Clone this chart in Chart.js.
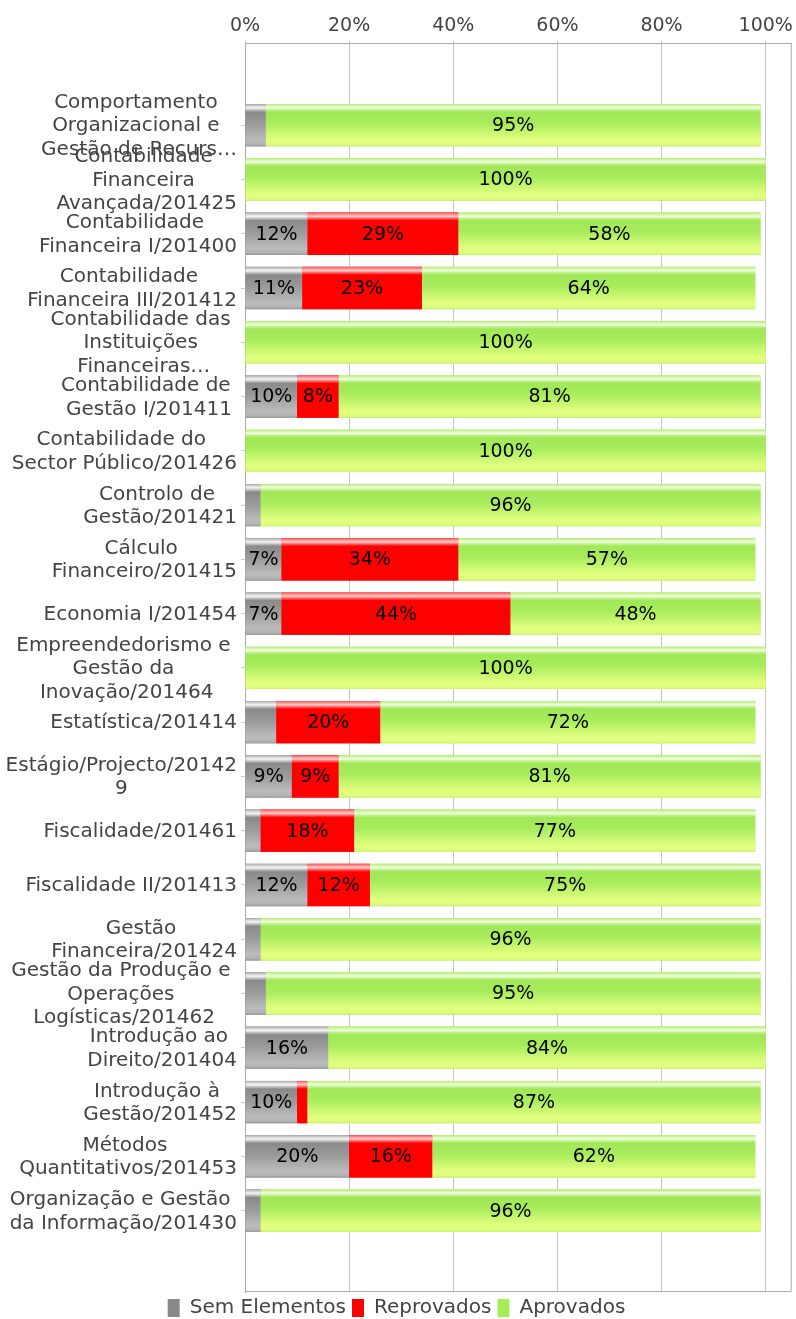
<!DOCTYPE html>
<html>
<head>
<meta charset="utf-8">
<script src="https://cdn.jsdelivr.net/npm/chart.js@4.4.1/dist/chart.umd.min.js"></script>
<style>
  html, body { margin: 0; padding: 0; background: #ffffff; }
  #wrap { width: 796px; height: 1319px; position: relative; overflow: hidden; }
</style>
</head>
<body>
<div id="wrap"><canvas id="c" width="796" height="1319"></canvas></div>
<script>
// ---- data ----
const categories = [
  ["Comportamento ", "Organizacional e ", "Gestão de Recurs…"],
  ["Contabilidade ", "Financeira ", "Avançada/201425"],
  ["Contabilidade ", "Financeira I/201400"],
  ["Contabilidade ", "Financeira III/201412"],
  ["Contabilidade das ", "Instituições ", "Financeiras…"],
  ["Contabilidade de ", "Gestão I/201411"],
  ["Contabilidade do ", "Sector Público/201426"],
  ["Controlo de ", "Gestão/201421"],
  ["Cálculo ", "Financeiro/201415"],
  ["Economia I/201454"],
  ["Empreendedorismo e ", "Gestão da ", "Inovação/201464"],
  ["Estatística/201414"],
  ["Estágio/Projecto/20142", "9"],
  ["Fiscalidade/201461"],
  ["Fiscalidade II/201413"],
  ["Gestão ", "Financeira/201424"],
  ["Gestão da Produção e ", "Operações ", "Logísticas/201462"],
  ["Introdução ao ", "Direito/201404"],
  ["Introdução à ", "Gestão/201452"],
  ["Métodos ", "Quantitativos/201453"],
  ["Organização e Gestão ", "da Informação/201430"]
];
const seriesNames = ["Sem Elementos", "Reprovados", "Aprovados"];
const semElementos = [4, 0, 12, 11, 0, 10, 0, 3, 7, 7, 0, 6, 9, 3, 12, 3, 4, 16, 10, 20, 3];
const reprovados   = [0, 0, 29, 23, 0, 8, 0, 0, 34, 44, 0, 20, 9, 18, 12, 0, 0, 0, 2, 16, 0];
const aprovados    = [95, 100, 58, 64, 100, 81, 100, 96, 57, 48, 100, 72, 81, 77, 75, 96, 95, 84, 87, 62, 96];
const xTickValues  = [0, 20, 40, 60, 80, 100];

// ---- styles ----
const FONT = "'DejaVu Sans', sans-serif";
const solidColors = ['#888888', '#ff0000', '#a6ee58'];
const glossStops = [
  [[0,'#a8a8a8'],[0.05,'#d8d8d8'],[0.09,'#f4f4f4'],[0.13,'#cccccc'],[0.19,'#8a8a8a'],[0.5,'#9c9c9c'],[0.85,'#bcbcbc'],[0.95,'#b2b2b2'],[1,'#9a9a9a']],
  [[0,'#ff5050'],[0.05,'#ff9a9a'],[0.09,'#ffd0d0'],[0.13,'#ff7070'],[0.19,'#ff0000'],[1,'#ff0000']],
  [[0,'#b4ee70'],[0.05,'#d8f8b0'],[0.09,'#f4fff0'],[0.13,'#c8f490'],[0.19,'#a0e858'],[0.45,'#a8ec5c'],[0.85,'#e2ff80'],[0.95,'#e0fc7c'],[1,'#c8f470']]
];

// padded category table (one empty slot above and below the bars)
const labels = [''].concat(categories.map(c => c.join('').trim()), ['']);
const pad = arr => [null].concat(arr, [null]);
const seriesData = [semElementos, reprovados, aprovados];

const glossPlugin = {
  id: 'glossBars',
  afterDatasetsDraw(chart) {
    const ctx = chart.ctx;
    ctx.save();
    const area = chart.chartArea;
    ctx.beginPath();
    ctx.rect(area.left, area.top, area.right - area.left, area.bottom - area.top);
    ctx.clip();
    chart.data.datasets.forEach((ds, di) => {
      const meta = chart.getDatasetMeta(di);
      meta.data.forEach((el, i) => {
        const v = ds.data[i];
        if (v == null || v === 0) return;
        const p = el.getProps(['x', 'y', 'base', 'height'], true);
        const left = Math.min(p.x, p.base), w = Math.abs(p.x - p.base);
        const top = p.y - p.height / 2;
        const g = ctx.createLinearGradient(0, top, 0, top + p.height);
        glossStops[di].forEach(s => g.addColorStop(s[0], s[1]));
        ctx.fillStyle = g;
        ctx.fillRect(left, top, w, p.height);
      });
    });
    // value labels
    ctx.font = "19px " + FONT;
    ctx.fillStyle = '#000000';
    ctx.textAlign = 'center';
    ctx.textBaseline = 'middle';
    chart.data.datasets.forEach((ds, di) => {
      const meta = chart.getDatasetMeta(di);
      meta.data.forEach((el, i) => {
        const v = ds.data[i];
        if (v == null || v === 0) return;
        const p = el.getProps(['x', 'y', 'base'], true);
        const w = Math.abs(p.x - p.base);
        const txt = v + '%';
        if (ctx.measureText(txt).width + 4 > w) return;
        ctx.fillText(txt, (p.x + p.base) / 2, p.y + 1);
      });
    });
    ctx.restore();
  },
  afterDraw(chart) {
    const ctx = chart.ctx;
    const a = chart.chartArea;
    ctx.save();
    // right and bottom frame lines
    ctx.strokeStyle = '#aaaaaa';
    ctx.lineWidth = 1;
    ctx.beginPath();
    ctx.moveTo(a.right - 0.5, a.top);
    ctx.lineTo(a.right - 0.5, a.bottom - 0.5);
    ctx.lineTo(a.left, a.bottom - 0.5);
    ctx.stroke();
    // category labels (multi-line, centered block, right edge near the axis)
    const ys = chart.scales.y;
    ctx.font = "20px " + FONT;
    ctx.fillStyle = '#444444';
    ctx.textAlign = 'center';
    ctx.textBaseline = 'middle';
    const lh = 23.5;
    categories.forEach((lines, i) => {
      const yc = ys.getPixelForTick(i + 1);
      let widest = 0;
      lines.forEach(l => { widest = Math.max(widest, ctx.measureText(l).width); });
      const xc = ys.right - 8 - widest / 2;
      lines.forEach((l, j) => {
        ctx.fillText(l, xc, yc + (j - (lines.length - 1) / 2) * lh + 1);
      });
    });
    ctx.restore();
  }
};

const chart = new Chart(document.getElementById('c'), {
  type: 'bar',
  data: {
    labels: labels,
    datasets: seriesData.map((arr, k) => ({
      label: seriesNames[k],
      data: pad(arr),
      backgroundColor: solidColors[k],
      borderWidth: 0,
      barPercentage: 0.78,
      categoryPercentage: 1.0
    }))
  },
  options: {
    indexAxis: 'y',
    responsive: false,
    animation: false,
    layout: { padding: { left: 0, right: 3, top: 12, bottom: -9 } },
    scales: {
      x: {
        position: 'top',
        stacked: true,
        min: 0,
        max: 105,
        afterBuildTicks: s => { s.ticks = xTickValues.map(v => ({ value: v })); },
        ticks: {
          callback: v => v + '%',
          color: '#444444',
          font: { family: FONT, size: 19 },
          padding: 3,
          maxRotation: 0
        },
        grid: { color: '#c4c4c4', lineWidth: 1, tickLength: 3, drawTicks: true },
        border: { display: true, color: '#aaaaaa' }
      },
      y: {
        stacked: true,
        offset: true,
        ticks: { display: false },
        grid: {
          offset: false,
          drawOnChartArea: false,
          tickLength: 4,
          color: ctx => (ctx.index === 0 || ctx.index === labels.length - 1) ? 'rgba(0,0,0,0)' : '#cccccc'
        },
        border: { display: true, color: '#aaaaaa' },
        afterFit: s => { s.width = 245; }
      }
    },
    plugins: {
      legend: {
        position: 'bottom',
        labels: {
          color: '#444444',
          font: { family: FONT, size: 20 },
          boxWidth: 12,
          boxHeight: 18,
          padding: 6
        }
      },
      tooltip: { enabled: false }
    }
  },
  plugins: [glossPlugin]
});
</script>
</body>
</html>
